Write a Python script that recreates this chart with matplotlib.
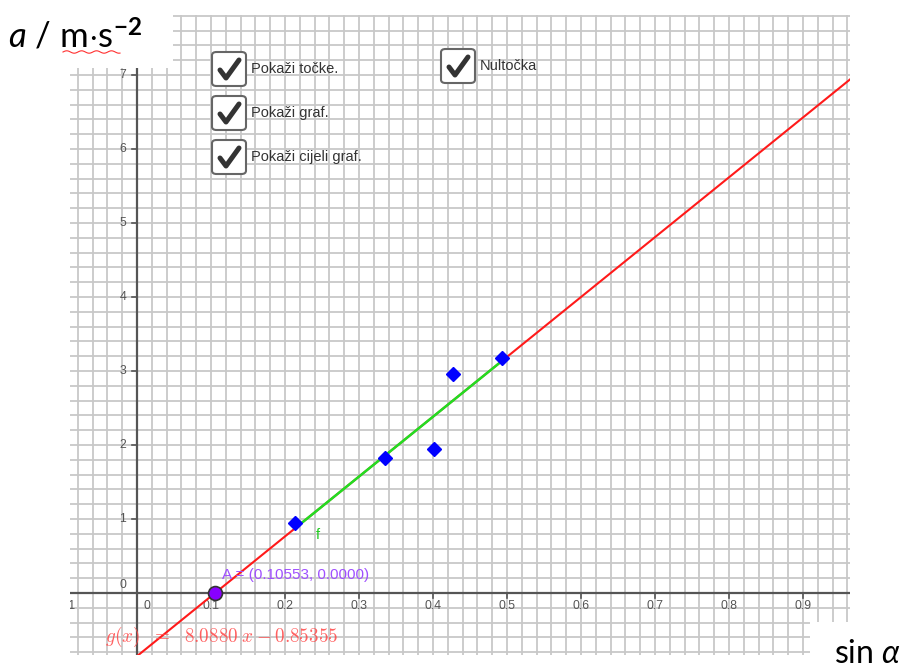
import matplotlib
matplotlib.use("Agg")
import matplotlib.pyplot as plt
import numpy as np
from matplotlib.patches import FancyBboxPatch, Rectangle

plt.rcParams['font.family'] = ['Liberation Sans', 'DejaVu Sans']
plt.rcParams['mathtext.fontset'] = 'custom'
plt.rcParams['mathtext.rm'] = 'Lato'
plt.rcParams['mathtext.it'] = 'Lato:italic'
plt.rcParams['mathtext.bf'] = 'Lato:bold'

# measurements: sin(alpha) vs acceleration
sin_a = [0.2135, 0.335, 0.401, 0.427, 0.493]
acc = [0.95, 1.83, 1.94, 2.96, 3.17]

# fitted line g(x) = k*x + n
k = 8.0880
n = -0.85355
root_x = -n / k

x_ticks = [-0.1, 0.0, 0.1, 0.2, 0.3, 0.4, 0.5, 0.6, 0.7, 0.8, 0.9]
x_tick_labels = ['−0.1', '0', '0.1', '0.2', '0.3', '0.4', '0.5', '0.6', '0.7', '0.8', '0.9']
y_ticks = [0, 1, 2, 3, 4, 5, 6, 7]
checkboxes = ['Pokaži točke.', 'Pokaži graf.', 'Pokaži cijeli graf.']

W, H = 913, 671
fig = plt.figure(figsize=(W / 100, H / 100), dpi=100)


def fx(x):
    return x / W


def fy(y):
    return 1 - y / H


ax = fig.add_axes([fx(70), fy(655), fx(850) - fx(70), fy(15) - fy(655)])
ax.set_xlim(-0.0905, 0.9635)
ax.set_ylim(-0.838, 7.81)
for s in ax.spines.values():
    s.set_visible(False)

# square grid
ax.set_xticks(np.arange(-0.08, 0.97, 0.02))
ax.set_yticks(np.arange(-0.8, 7.81, 0.2))
ax.tick_params(length=0, labelbottom=False, labelleft=False)
ax.grid(True, color='#c8c8c8', lw=1.3)
ax.set_axisbelow(True)

# axes through the origin
ax.axhline(0, color='#555555', lw=1.6, zorder=2)
ax.axvline(0, color='#555555', lw=1.6, zorder=2)
for xt, lab in zip(x_ticks, x_tick_labels):
    if xt != 0:
        ax.plot([xt, xt], [0, -0.07], color='#555555', lw=1.2, zorder=2)
    off = 0.0135 if xt == 0 else 0.0
    ax.text(xt + off, -0.176, lab, ha='center', va='center', fontsize=8.8,
            color='#555555', clip_on=True)
for yt in y_ticks:
    if yt != 0:
        ax.plot([-0.007, 0], [yt, yt], color='#555555', lw=1.2, zorder=2)
    ax.text(-0.019, yt + (0.108 if yt == 0 else 0), str(yt), ha='center',
            va='center', fontsize=8.8, color='#555555')

# full fitted line and the part over the measured range
xs = np.array(ax.get_xlim())
ax.plot(xs, k * xs + n, color='#ff1a1a', lw=1.5, zorder=3)
seg = np.array([min(sin_a), max(sin_a)])
ax.plot(seg, k * seg + n, color='#22dd22', lw=1.8, zorder=4)
ax.text(0.2446, 0.78, 'f', color='#22cc22', fontsize=10.5,
        ha='center', va='center')

ax.plot(sin_a, acc, 'D', color='#0000ff', ms=7.5, zorder=5)

# zero of g
ax.plot([root_x], [0], 'o', color='#8800ff', mec='#333333', mew=1.2, ms=10, zorder=6)
ax.text(0.1145, 0.24, 'A = (%.5f, 0.0000)' % root_x, color='#a050ff',
        fontsize=11, va='center', zorder=6)

ax.text(-0.043, -0.6, r'$g(x)\ \ =\ \ 8.0880\;x - 0.85355$', math_fontfamily='cm',
        color='#ff5050', alpha=0.9, fontsize=13.8, va='center', zorder=6)

# white corners for the axis titles
fig.add_artist(Rectangle((0, fy(68)), fx(173), 1 - fy(68), transform=fig.transFigure,
                         facecolor='white', edgecolor='none', zorder=10))
fig.add_artist(Rectangle((fx(810), 0), 1 - fx(810), fy(622), transform=fig.transFigure,
                         facecolor='white', edgecolor='none', zorder=10))

fig.text(fx(8), fy(37), r'$\mathit{a}\ /\ \mathrm{m{\cdot}s}^{\mathbf{-2}}$',
         fontsize=25, color='black', va='center', zorder=11)
sq = np.linspace(fx(63), fx(120), 50)
fig.add_artist(plt.Line2D(sq, fy(52) + 0.0018 * np.sin(np.linspace(0, 24, 50)),
                          transform=fig.transFigure, color='#ff3030', lw=0.8, zorder=11))
fig.text(fx(834), fy(655), r'$\mathrm{sin}\ \mathit{\alpha}$', fontsize=23,
         color='black', va='center', zorder=11)


def checkbox(x, y, label):
    size = 34
    box = FancyBboxPatch((fx(x), fy(y + size)), fx(size), fy(y) - fy(y + size),
                         boxstyle='round,pad=0,rounding_size=0.005',
                         transform=fig.transFigure, facecolor='white',
                         edgecolor='#666666', lw=1.5, zorder=12)
    fig.add_artist(box)
    cx = [x + 8, x + 14, x + 27]
    cy = [y + 18, y + 26, y + 8]
    fig.add_artist(plt.Line2D([fx(v) for v in cx], [fy(v) for v in cy],
                              transform=fig.transFigure, color='#333333', lw=3.6,
                              solid_capstyle='round', solid_joinstyle='round', zorder=13))
    fig.text(fx(x + 39), fy(y + 17), label, fontsize=10.5, color='#333333',
             va='center', zorder=13)


for i, lab in enumerate(checkboxes):
    checkbox(212, 52 + i * 44, lab)
checkbox(441, 49, 'Nultočka')

fig.savefig('out.png', dpi=100, facecolor='white')
